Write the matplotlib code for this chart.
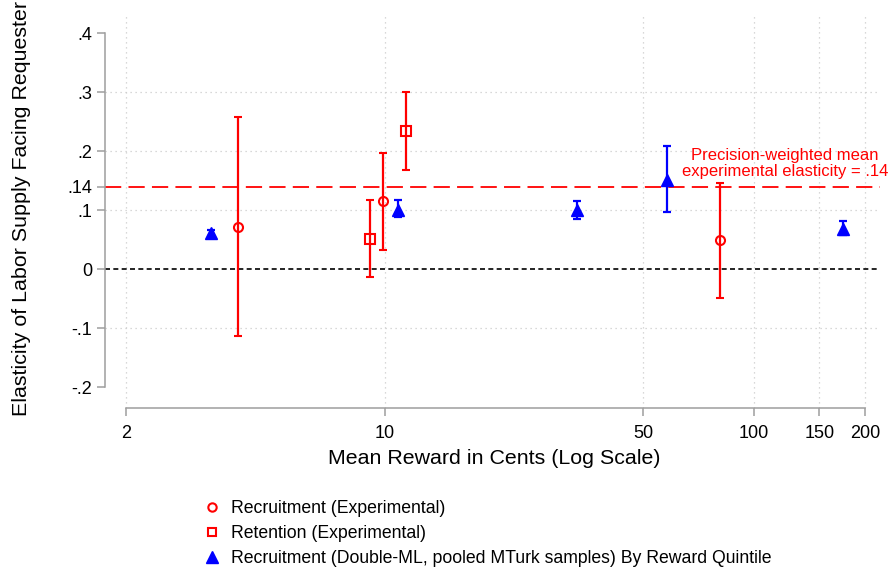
import matplotlib.pyplot as plt
from matplotlib.lines import Line2D
import numpy as np

plt.rcParams['font.family'] = ['Liberation Sans', 'DejaVu Sans']

# Recruitment (Experimental)
rec_x = [4.0, 9.9, 81.0]
rec_y = [0.072, 0.116, 0.050]
rec_lo = [-0.113, 0.033, -0.049]
rec_hi = [0.258, 0.197, 0.147]

# Retention (Experimental)
ret_x = [9.1, 11.45]
ret_y = [0.052, 0.234]
ret_lo = [-0.013, 0.169]
ret_hi = [0.118, 0.300]

# Recruitment (Double-ML) by reward quintile
dml_x = [3.38, 10.9, 33.1, 58.0, 174.0]
dml_y = [0.061, 0.100, 0.100, 0.152, 0.069]
dml_lo = [0.056, 0.089, 0.086, 0.098, 0.058]
dml_hi = [0.066, 0.117, 0.115, 0.209, 0.082]

mean_elast = 0.14

yticks = [-0.2, -0.1, 0, 0.1, 0.14, 0.2, 0.3, 0.4]
ytick_labels = ['-.2', '-.1', '0', '.1', '.14', '.2', '.3', '.4']
xticks = [2, 10, 50, 100, 150, 200]
xtick_labels = ['2', '10', '50', '100', '150', '200']

W, H = 893, 571
fig = plt.figure(figsize=(W / 100, H / 100), dpi=100)
ax = fig.add_axes([105 / W, (H - 408) / H, (880 - 105) / W, (408 - 15) / H])

red = (1, 0, 0)
blue = (0, 0, 1)
gray = (0.62, 0.62, 0.62)

# gridlines
for y in [-0.1, 0.1, 0.2, 0.3]:
    ax.axhline(y, color=(0.8, 0.8, 0.8), lw=0.9, ls=(0, (1, 3)), zorder=0)
for x in xticks:
    ax.axvline(x, color=(0.8, 0.8, 0.8), lw=0.9, ls=(0, (1, 3)), zorder=0)

ax.axhline(0, color='black', lw=1.2, ls=(0, (3, 2)), zorder=1)
ax.axhline(mean_elast, color=red, lw=1.3, ls=(0, (9, 4)), zorder=1)


def err(y, lo, hi):
    y = np.array(y)
    return [y - np.array(lo), np.array(hi) - y]


ax.errorbar(rec_x, rec_y, yerr=err(rec_y, rec_lo, rec_hi), fmt='o', color=red,
            mfc='none', mec=red, ms=6.5, mew=1.5, elinewidth=1.6, capsize=3.2,
            capthick=1.6, zorder=3)
ax.errorbar(ret_x, ret_y, yerr=err(ret_y, ret_lo, ret_hi), fmt='s', color=red,
            mfc='none', mec=red, ms=6.5, mew=1.5, elinewidth=1.6, capsize=3.2,
            capthick=1.6, zorder=3)
ax.errorbar(dml_x, dml_y, yerr=err(dml_y, dml_lo, dml_hi), fmt='^', color=blue,
            mfc=blue, mec=blue, ms=8, elinewidth=1.6, capsize=3.2,
            capthick=1.6, zorder=3)

ax.text(121, 0.179, 'Precision-weighted mean\nexperimental elasticity = .14',
        color=red, fontsize=12, ha='center', va='center', linespacing=1.08)

ax.set_xscale('log')
ax.set_xlim(1.751, 219)
ax.set_ylim(-0.235, 0.431)
ax.set_xticks(xticks)
ax.set_xticklabels(xtick_labels, fontsize=13)
ax.minorticks_off()
ax.set_yticks(yticks)
ax.set_yticklabels(ytick_labels, fontsize=13)
ax.tick_params(axis='both', length=6, width=1.1, color=gray, direction='out')
ax.tick_params(axis='y', pad=3)
ax.tick_params(axis='x', pad=6)

for s in ['top', 'right']:
    ax.spines[s].set_visible(False)
ax.spines['left'].set_bounds(-0.2, 0.4)
ax.spines['bottom'].set_bounds(2, 200)
for s in ['left', 'bottom']:
    ax.spines[s].set_color(gray)
    ax.spines[s].set_linewidth(1.1)

fig.text(494 / W, 1 - 458 / H, 'Mean Reward in Cents (Log Scale)', fontsize=15.4,
         ha='center', va='center')
fig.text(22 / W, 1 - 208 / H, 'Elasticity of Labor Supply Facing Requester',
         fontsize=15.4, rotation=90, ha='center', va='center')

handles = [
    Line2D([], [], ls='none', marker='o', mfc='none', mec=red, ms=6, mew=1.5),
    Line2D([], [], ls='none', marker='s', mfc='none', mec=red, ms=6, mew=1.5),
    Line2D([], [], ls='none', marker='^', mfc=blue, mec=blue, ms=8),
]
labels = ['Recruitment (Experimental)', 'Retention (Experimental)',
          'Recruitment (Double-ML, pooled MTurk samples) By Reward Quintile']
fig.legend(handles, labels, loc='upper left', bbox_to_anchor=(203 / W, 1 - 500 / H),
           frameon=False, fontsize=12.7, handlelength=1.0, handletextpad=0.6,
           labelspacing=0.45, borderpad=0, borderaxespad=0)

fig.savefig('out.png', dpi=100)
